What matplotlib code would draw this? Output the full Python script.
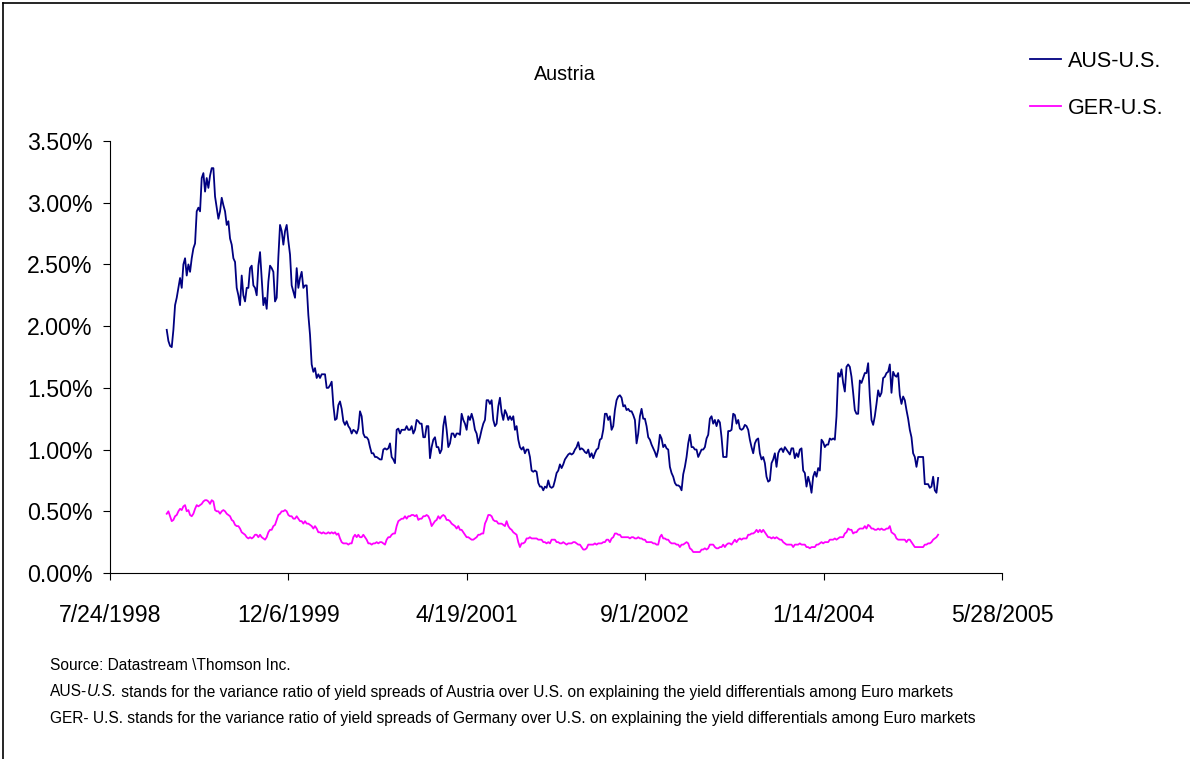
import matplotlib
matplotlib.use("Agg")
import matplotlib.pyplot as plt
from matplotlib.lines import Line2D
import pandas as pd

# data (percent), roughly every 4.7 days
aus_us = [
    1.97, 1.88, 1.84, 1.83, 1.97, 2.17, 2.23, 2.31, 2.39, 2.31,
    2.50, 2.55, 2.41, 2.50, 2.44, 2.55, 2.63, 2.67, 2.93, 2.96,
    2.93, 3.20, 3.24, 3.09, 3.20, 3.12, 3.22, 3.28, 3.28, 3.05,
    2.96, 2.87, 2.93, 3.04, 2.98, 2.93, 2.82, 2.85, 2.71, 2.66,
    2.55, 2.52, 2.31, 2.25, 2.17, 2.41, 2.25, 2.20, 2.31, 2.31,
    2.47, 2.49, 2.33, 2.31, 2.25, 2.49, 2.60, 2.39, 2.17, 2.23,
    2.14, 2.36, 2.49, 2.47, 2.44, 2.20, 2.23, 2.56, 2.82, 2.77,
    2.66, 2.77, 2.82, 2.69, 2.58, 2.33, 2.28, 2.23, 2.47, 2.31,
    2.39, 2.44, 2.31, 2.33, 2.33, 2.09, 1.93, 1.69, 1.63, 1.66,
    1.58, 1.61, 1.58, 1.61, 1.61, 1.61, 1.50, 1.50, 1.52, 1.55,
    1.36, 1.24, 1.25, 1.36, 1.39, 1.33, 1.23, 1.20, 1.23, 1.19,
    1.17, 1.13, 1.16, 1.15, 1.13, 1.17, 1.31, 1.27, 1.13, 1.10,
    1.10, 1.08, 1.02, 0.97, 0.97, 0.94, 0.94, 0.93, 0.92, 0.92,
    1.00, 1.01, 1.00, 1.01, 1.05, 0.94, 0.92, 0.89, 1.16, 1.17,
    1.13, 1.16, 1.16, 1.16, 1.19, 1.16, 1.16, 1.19, 1.13, 1.16,
    1.24, 1.23, 1.21, 1.21, 1.10, 1.10, 1.19, 1.19, 0.93, 1.02,
    1.08, 1.10, 1.02, 1.02, 0.97, 1.00, 1.19, 1.27, 1.16, 1.02,
    1.05, 1.13, 1.13, 1.10, 1.13, 1.13, 1.12, 1.29, 1.24, 1.21,
    1.16, 1.27, 1.24, 1.29, 1.24, 1.16, 1.13, 1.05, 1.10, 1.16,
    1.21, 1.24, 1.40, 1.40, 1.37, 1.40, 1.24, 1.19, 1.21, 1.35,
    1.42, 1.30, 1.24, 1.32, 1.29, 1.24, 1.27, 1.24, 1.27, 1.16,
    1.19, 1.08, 1.02, 1.00, 1.02, 0.97, 1.00, 1.00, 0.94, 0.83,
    0.82, 0.83, 0.82, 0.73, 0.70, 0.70, 0.67, 0.70, 0.69, 0.75,
    0.70, 0.69, 0.70, 0.75, 0.81, 0.83, 0.88, 0.85, 0.88, 0.92,
    0.94, 0.96, 0.97, 0.96, 0.97, 1.00, 1.02, 1.06, 1.00, 1.01,
    1.00, 0.98, 0.97, 1.00, 0.94, 0.97, 0.93, 0.97, 1.00, 1.01,
    1.08, 1.09, 1.16, 1.29, 1.29, 1.24, 1.27, 1.16, 1.19, 1.32,
    1.40, 1.43, 1.44, 1.42, 1.35, 1.36, 1.32, 1.33, 1.31, 1.31,
    1.28, 1.24, 1.05, 1.13, 1.27, 1.33, 1.25, 1.25, 1.19, 1.10,
    1.08, 1.04, 1.01, 0.98, 0.94, 1.00, 1.12, 1.09, 1.02, 1.04,
    1.01, 1.00, 0.86, 0.81, 0.78, 0.73, 0.71, 0.71, 0.70, 0.67,
    0.80, 0.86, 0.94, 1.05, 1.12, 1.02, 1.02, 1.00, 1.00, 0.94,
    0.97, 1.00, 1.00, 1.02, 1.09, 1.12, 1.25, 1.27, 1.21, 1.24,
    1.19, 1.24, 1.22, 1.10, 0.94, 0.94, 0.94, 1.15, 1.15, 1.16,
    1.29, 1.28, 1.21, 1.24, 1.17, 1.16, 1.17, 1.20, 1.19, 1.16,
    1.08, 1.02, 0.97, 1.05, 1.08, 1.09, 0.97, 0.92, 0.94, 0.89,
    0.78, 0.74, 0.75, 0.89, 0.92, 0.97, 0.86, 0.97, 1.00, 1.01,
    0.98, 1.02, 1.00, 0.98, 0.96, 1.01, 1.01, 0.93, 0.97, 0.94,
    1.00, 1.01, 0.83, 0.81, 0.70, 0.78, 0.73, 0.65, 0.78, 0.82,
    0.78, 0.85, 0.83, 1.08, 1.06, 1.02, 1.04, 1.04, 1.09, 1.08,
    1.09, 1.08, 1.27, 1.62, 1.59, 1.65, 1.54, 1.47, 1.67, 1.69,
    1.67, 1.59, 1.46, 1.32, 1.29, 1.29, 1.56, 1.54, 1.58, 1.62,
    1.62, 1.70, 1.43, 1.24, 1.20, 1.27, 1.37, 1.48, 1.43, 1.46,
    1.58, 1.59, 1.62, 1.63, 1.69, 1.46, 1.63, 1.60, 1.59, 1.62,
    1.44, 1.37, 1.43, 1.40, 1.32, 1.25, 1.16, 1.10, 0.97, 0.94,
    0.86, 0.94, 0.94, 0.94, 0.94, 0.72, 0.72, 0.72, 0.69, 0.70,
    0.78, 0.67, 0.65, 0.77,
]

ger_us = [
    0.48, 0.50, 0.46, 0.42, 0.43, 0.46, 0.47, 0.50, 0.52, 0.51,
    0.54, 0.55, 0.50, 0.51, 0.47, 0.46, 0.48, 0.52, 0.55, 0.54,
    0.55, 0.56, 0.58, 0.59, 0.59, 0.58, 0.56, 0.59, 0.58, 0.51,
    0.50, 0.50, 0.48, 0.50, 0.51, 0.50, 0.48, 0.47, 0.46, 0.43,
    0.42, 0.39, 0.38, 0.38, 0.36, 0.33, 0.32, 0.31, 0.29, 0.28,
    0.29, 0.28, 0.29, 0.31, 0.31, 0.29, 0.31, 0.29, 0.28, 0.27,
    0.29, 0.33, 0.35, 0.35, 0.38, 0.39, 0.43, 0.47, 0.48, 0.50,
    0.50, 0.51, 0.50, 0.47, 0.46, 0.46, 0.44, 0.44, 0.46, 0.44,
    0.42, 0.42, 0.40, 0.42, 0.40, 0.40, 0.39, 0.38, 0.36, 0.38,
    0.36, 0.33, 0.33, 0.32, 0.33, 0.32, 0.32, 0.33, 0.32, 0.33,
    0.32, 0.33, 0.31, 0.32, 0.28, 0.25, 0.24, 0.24, 0.24, 0.23,
    0.24, 0.24, 0.29, 0.31, 0.29, 0.31, 0.29, 0.29, 0.31, 0.29,
    0.27, 0.24, 0.24, 0.23, 0.24, 0.24, 0.25, 0.24, 0.25, 0.25,
    0.24, 0.23, 0.27, 0.29, 0.29, 0.31, 0.32, 0.32, 0.38, 0.42,
    0.43, 0.44, 0.44, 0.46, 0.44, 0.46, 0.46, 0.47, 0.47, 0.46,
    0.47, 0.43, 0.44, 0.44, 0.46, 0.46, 0.47, 0.46, 0.43, 0.38,
    0.40, 0.42, 0.43, 0.46, 0.44, 0.46, 0.47, 0.46, 0.43, 0.43,
    0.42, 0.40, 0.39, 0.38, 0.36, 0.38, 0.35, 0.35, 0.33, 0.31,
    0.29, 0.29, 0.28, 0.27, 0.27, 0.28, 0.29, 0.31, 0.31, 0.32,
    0.32, 0.40, 0.43, 0.47, 0.47, 0.46, 0.43, 0.42, 0.42, 0.40,
    0.40, 0.40, 0.39, 0.38, 0.42, 0.38, 0.36, 0.35, 0.33, 0.32,
    0.31, 0.25, 0.21, 0.24, 0.24, 0.25, 0.28, 0.28, 0.29, 0.28,
    0.28, 0.28, 0.28, 0.27, 0.27, 0.27, 0.25, 0.25, 0.24, 0.25,
    0.24, 0.27, 0.27, 0.27, 0.25, 0.25, 0.24, 0.24, 0.25, 0.24,
    0.23, 0.24, 0.24, 0.24, 0.25, 0.25, 0.24, 0.23, 0.23, 0.21,
    0.19, 0.19, 0.20, 0.23, 0.23, 0.23, 0.23, 0.24, 0.23, 0.24,
    0.24, 0.24, 0.25, 0.25, 0.27, 0.27, 0.25, 0.28, 0.29, 0.32,
    0.32, 0.31, 0.31, 0.29, 0.29, 0.29, 0.29, 0.29, 0.28, 0.29,
    0.29, 0.28, 0.28, 0.29, 0.28, 0.28, 0.27, 0.27, 0.25, 0.25,
    0.25, 0.25, 0.24, 0.24, 0.23, 0.23, 0.29, 0.31, 0.28, 0.28,
    0.27, 0.27, 0.25, 0.24, 0.24, 0.24, 0.23, 0.23, 0.21, 0.23,
    0.23, 0.24, 0.25, 0.24, 0.20, 0.19, 0.17, 0.17, 0.17, 0.17,
    0.17, 0.19, 0.19, 0.20, 0.19, 0.20, 0.23, 0.23, 0.23, 0.21,
    0.20, 0.20, 0.21, 0.21, 0.23, 0.21, 0.23, 0.24, 0.24, 0.23,
    0.25, 0.27, 0.25, 0.27, 0.28, 0.27, 0.28, 0.28, 0.28, 0.31,
    0.31, 0.32, 0.32, 0.33, 0.35, 0.33, 0.35, 0.33, 0.35, 0.33,
    0.31, 0.29, 0.29, 0.28, 0.29, 0.28, 0.29, 0.28, 0.27, 0.27,
    0.25, 0.24, 0.23, 0.23, 0.23, 0.23, 0.21, 0.23, 0.23, 0.23,
    0.24, 0.23, 0.23, 0.23, 0.21, 0.21, 0.20, 0.21, 0.21, 0.21,
    0.23, 0.23, 0.24, 0.25, 0.24, 0.25, 0.25, 0.25, 0.27, 0.27,
    0.27, 0.28, 0.27, 0.28, 0.29, 0.29, 0.29, 0.32, 0.33, 0.36,
    0.35, 0.35, 0.32, 0.33, 0.33, 0.35, 0.36, 0.36, 0.36, 0.38,
    0.36, 0.39, 0.38, 0.36, 0.36, 0.35, 0.35, 0.36, 0.35, 0.36,
    0.35, 0.35, 0.36, 0.36, 0.38, 0.33, 0.32, 0.31, 0.28, 0.27,
    0.27, 0.27, 0.27, 0.27, 0.25, 0.27, 0.27, 0.25, 0.23, 0.21,
    0.21, 0.21, 0.21, 0.21, 0.21, 0.23, 0.23, 0.24, 0.24, 0.25,
    0.27, 0.28, 0.29, 0.31,
]

start_date = "1998-12-30"
end_date = "2004-11-30"
xtick_dates = ["1998-07-24", "1999-12-06", "2001-04-19", "2002-09-01", "2004-01-14", "2005-05-28"]
xtick_labels = ["7/24/1998", "12/6/1999", "4/19/2001", "9/1/2002", "1/14/2004", "5/28/2005"]
ytick_values = [0.0, 0.5, 1.0, 1.5, 2.0, 2.5, 3.0, 3.5]

title = "Austria"
series_labels = ["AUS-U.S.", "GER-U.S."]
note_source = "Source: Datastream \\Thomson Inc."
note_rest = " stands for the variance ratio of yield spreads of Austria over U.S. on explaining the yield differentials among Euro markets"
note_ger = "GER- U.S. stands for the variance ratio of yield spreads of Germany over U.S. on explaining the yield differentials among Euro markets"

plt.rcParams["font.family"] = ["Liberation Sans", "DejaVu Sans"]

W, H = 1190, 759
fig = plt.figure(figsize=(W / 100, H / 100), dpi=100)
ax = fig.add_axes([110 / W, 1 - 573 / H, (1002 - 110) / W, (573 - 141) / H])

aus_dates = pd.date_range(start_date, end_date, periods=len(aus_us))
ger_dates = pd.date_range(start_date, end_date, periods=len(ger_us))

ax.plot(aus_dates, aus_us, color="#000080", lw=1.3, label=series_labels[0])
ax.plot(ger_dates, ger_us, color="#FF00FF", lw=1.3, label=series_labels[1])

ax.set_xlim(pd.Timestamp(xtick_dates[0]), pd.Timestamp(xtick_dates[-1]))
ax.set_ylim(0, 3.5)
ax.set_xticks(pd.to_datetime(xtick_dates), xtick_labels)
ax.set_yticks(ytick_values, [f"{v:.2f}%" for v in ytick_values])

for s in ["top", "right"]:
    ax.spines[s].set_visible(False)
for s in ["left", "bottom"]:
    ax.spines[s].set_linewidth(0.8)
ax.tick_params(axis="x", direction="out", length=5, width=0.8, pad=17, labelsize=16.7)
ax.tick_params(axis="y", direction="out", length=5, width=0.8, pad=7.5, labelsize=16.7)

fig.text(565 / W, 1 - 74 / H, title, ha="center", va="center", fontsize=14.2)

fig.legend(loc="upper left", bbox_to_anchor=(1030 / W, 1 - 51 / H),
           bbox_transform=fig.transFigure, frameon=False, fontsize=15.5,
           handlelength=1.45, handletextpad=0.3, labelspacing=1.2,
           borderpad=0, borderaxespad=0)

# notes under the chart
fs_note = 11.2
fig.text(50 / W, 1 - 666 / H, note_source, va="center", fontsize=fs_note)
t1 = fig.text(50 / W, 1 - 692 / H, "AUS-", va="center", fontsize=fs_note)
t2 = ax.annotate("U.S.", xy=(1, 0), xycoords=t1, va="bottom", ha="left",
                 fontsize=fs_note, style="italic", annotation_clip=False)
ax.annotate(note_rest, xy=(1, 0), xycoords=t2, va="bottom", ha="left",
            fontsize=fs_note, annotation_clip=False)
fig.text(50 / W, 1 - 718 / H, note_ger, va="center", fontsize=fs_note)

# outer frame (only left and top edges fall inside the picture)
fig.add_artist(Line2D([3 / W, 3 / W], [0, 1 - 3 / H], color="black", lw=1.2))
fig.add_artist(Line2D([3 / W, 1], [1 - 3 / H, 1 - 3 / H], color="black", lw=1.2))

fig.savefig("out.png", dpi=100)
